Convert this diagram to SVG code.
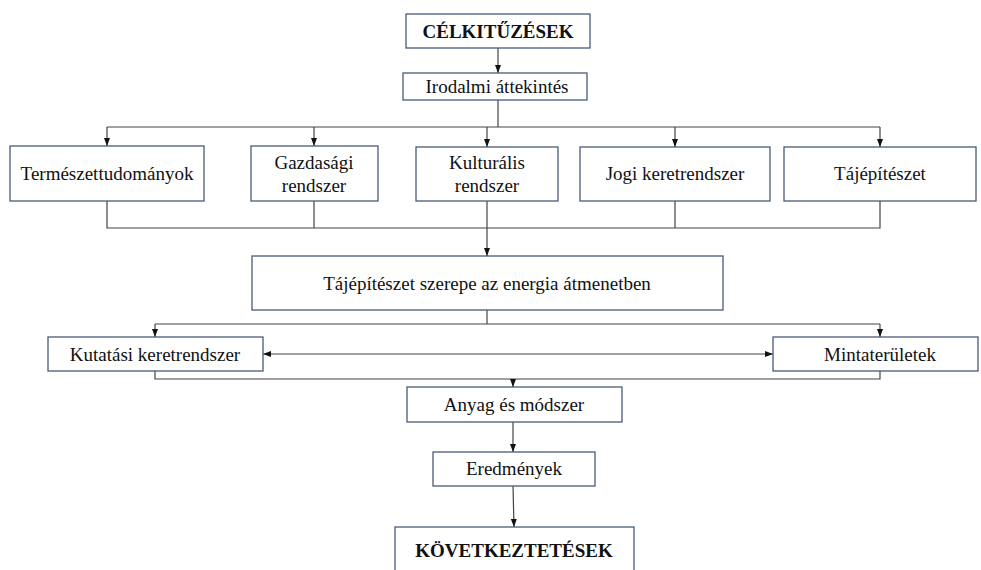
<svg xmlns="http://www.w3.org/2000/svg" width="981" height="570" viewBox="0 0 981 570">
<style>
.box{fill:#fff;stroke:#4a5a78;stroke-width:1.3}
.t{font-family:'Liberation Serif','DejaVu Serif',serif;font-size:19px;fill:#111;text-anchor:middle}
.b{font-weight:bold}
.c{fill:none;stroke:#444;stroke-width:1.2}
</style>
<defs>
<marker id="ah" markerUnits="userSpaceOnUse" markerWidth="8" markerHeight="8" viewBox="0 0 8 8" refX="8" refY="4" orient="auto-start-reverse">
<path d="M0,1 L8,4 L0,7 Z" fill="#111"/>
</marker>
</defs>
<rect width="981" height="570" fill="#fff"/>
<g id="connectors">
<path class="c" d="M498,48 V73" marker-end="url(#ah)"/>
<path class="c" d="M498,100 V127"/>
<path class="c" d="M107,127 H880"/>
<path class="c" d="M107,127 V146" marker-end="url(#ah)"/>
<path class="c" d="M314,127 V146" marker-end="url(#ah)"/>
<path class="c" d="M487,127 V147" marker-end="url(#ah)"/>
<path class="c" d="M675,127 V147" marker-end="url(#ah)"/>
<path class="c" d="M880,127 V147" marker-end="url(#ah)"/>
<path class="c" d="M107,201 V228 H880 V201"/>
<path class="c" d="M314,201 V228 M675,201 V228"/>
<path class="c" d="M487,201 V256" marker-end="url(#ah)"/>
<path class="c" d="M487,310 V324"/>
<path class="c" d="M155,324 H880"/>
<path class="c" d="M155,324 V337" marker-end="url(#ah)"/>
<path class="c" d="M880,324 V337" marker-end="url(#ah)"/>
<path class="c" d="M263,354 H773" marker-start="url(#ah)" marker-end="url(#ah)"/>
<path class="c" d="M155,371 V379 H880 V371"/>
<path class="c" d="M513,379 V387" marker-end="url(#ah)"/>
<path class="c" d="M513,422 V452" marker-end="url(#ah)"/>
<path class="c" d="M513,486 L514,527" marker-end="url(#ah)"/>
</g>
<g id="celkituzesek"><rect class="box" x="406" y="14" width="184" height="34"/><text class="t b" x="498" y="38">CÉLKITŰZÉSEK</text></g>
<g id="irodalmi"><rect class="box" x="403" y="73" width="184" height="27"/><text class="t" x="497" y="93">Irodalmi áttekintés</text></g>
<g id="termeszettudomanyok"><rect class="box" x="10" y="146" width="194" height="55"/><text class="t" x="107" y="180">Természettudományok</text></g>
<g id="gazdasagi"><rect class="box" x="251" y="146" width="127" height="55"/><text class="t" x="314" y="169">Gazdasági</text><text class="t" x="314" y="192">rendszer</text></g>
<g id="kulturalis"><rect class="box" x="416" y="147" width="142" height="54"/><text class="t" x="487" y="169">Kulturális</text><text class="t" x="487" y="192">rendszer</text></g>
<g id="jogi"><rect class="box" x="580" y="147" width="190" height="54"/><text class="t" x="675" y="180">Jogi keretrendszer</text></g>
<g id="tajepiteszet"><rect class="box" x="784" y="147" width="192" height="54"/><text class="t" x="880" y="180">Tájépítészet</text></g>
<g id="szerepe"><rect class="box" x="252" y="256" width="471" height="54"/><text class="t" x="487" y="290">Tájépítészet szerepe az energia átmenetben</text></g>
<g id="kutatasi"><rect class="box" x="48" y="337" width="215" height="34"/><text class="t" x="155" y="361">Kutatási keretrendszer</text></g>
<g id="mintateruletek"><rect class="box" x="773" y="337" width="205" height="34"/><text class="t" x="880" y="361">Mintaterületek</text></g>
<g id="anyag"><rect class="box" x="407" y="387" width="215" height="35"/><text class="t" x="514" y="411">Anyag és módszer</text></g>
<g id="eredmenyek"><rect class="box" x="433" y="452" width="162" height="34"/><text class="t" x="514" y="475">Eredmények</text></g>
<g id="kovetkeztetesek"><rect class="box" x="395" y="527" width="239" height="50"/><text class="t b" x="514" y="557">KÖVETKEZTETÉSEK</text></g>
</svg>
